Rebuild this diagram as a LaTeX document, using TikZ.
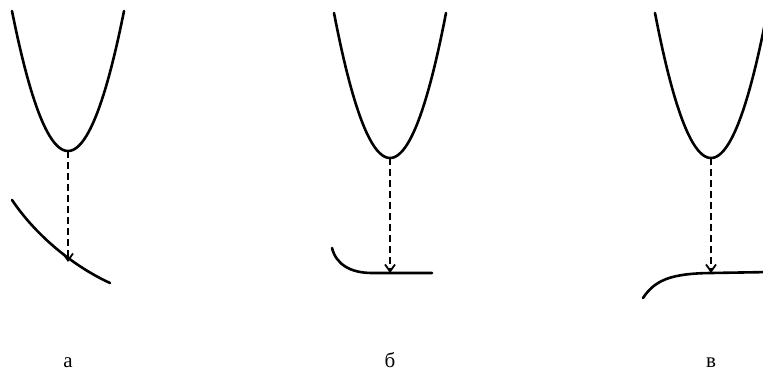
\documentclass[tikz,border=0pt]{standalone}
\usepackage{fontspec}
\setmainfont{Liberation Serif}
\usetikzlibrary{arrows.meta}

\tikzset{
  curve/.style={line width=2.6pt,line cap=round},
  drop/.style={line width=2.1pt,dash pattern=on 7pt off 4pt,
    -{Straight Barb[length=7pt,width=10pt,line width=1.8pt]}},
  panel/.style={font=\fontsize{21}{24}\selectfont,anchor=base}
}

\begin{document}
\begin{tikzpicture}[x=1pt,y=-1pt]
  \clip (0,0) rectangle (763,374);
  % (а)
  \begin{scope}[shift={(68,151)}]
    \draw[curve] plot[domain=-56:56,samples=61] (\x,{-140*(\x/56)*(\x/56)});
    \coordinate (va) at (0,0);
    \draw[curve] (-56,49) .. controls (-31,86) and (7,116) .. (42,132);
    \coordinate (ha) at (0,111);
    \draw[drop] (va) -- (ha);
    \node[panel] (la) at (0,216) {а};
  \end{scope}
  % (б)
  \begin{scope}[shift={(390,158)}]
    \draw[curve] plot[domain=-56:56,samples=61] (\x,{-145*(\x/56)*(\x/56)});
    \coordinate (vb) at (0,0);
    \draw[curve] (-58,90) .. controls (-54,106) and (-40,115) .. (-18,115) -- (42,115);
    \coordinate (hb) at (0,115);
    \draw[drop] (vb) -- (hb);
    \node[panel] (lb) at (0,209) {б};
  \end{scope}
  % (в)
  \begin{scope}[shift={(711,158)}]
    \draw[curve] plot[domain=-56:56,samples=61] (\x,{-145*(\x/56)*(\x/56)});
    \coordinate (vc) at (0,0);
    \draw[curve] (-68,140) .. controls (-56,122) and (-40,115.5) .. (0,115) -- (60,114);
    \coordinate (hc) at (0,115);
    \draw[drop] (vc) -- (hc);
    \node[panel] (lc) at (0,209) {в};
  \end{scope}
\end{tikzpicture}
\end{document}
